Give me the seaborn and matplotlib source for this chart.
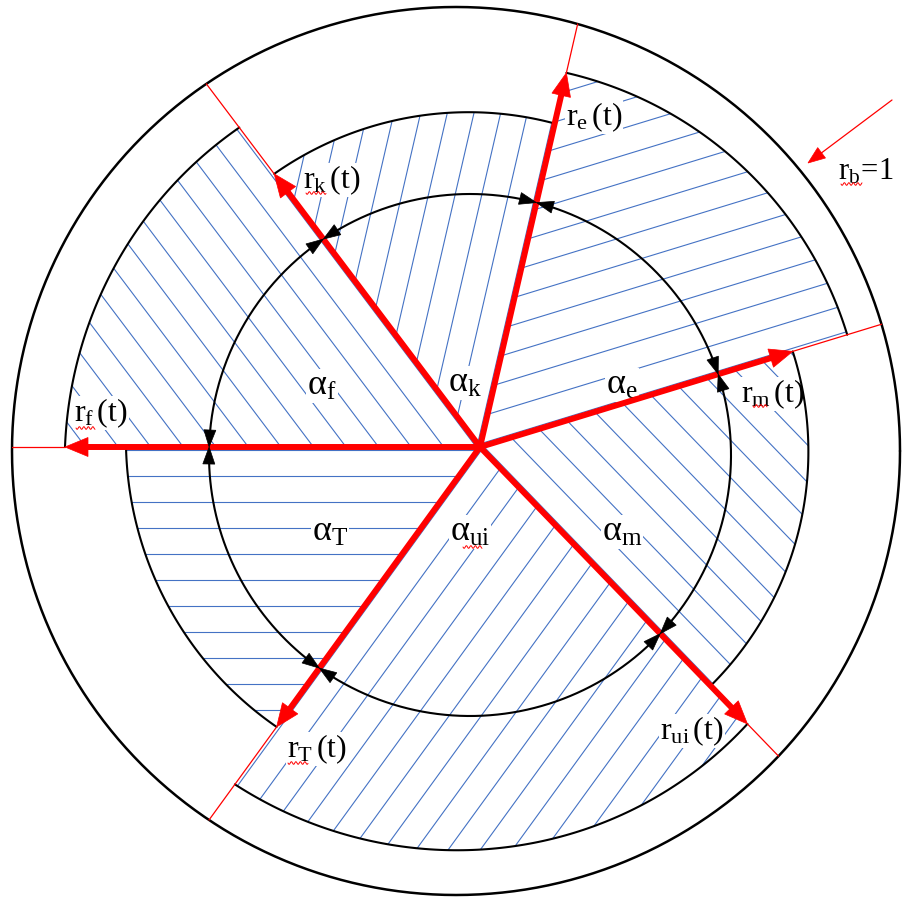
import numpy as np
import matplotlib
matplotlib.use('Agg')
import matplotlib.pyplot as plt
from matplotlib.patches import Polygon
from matplotlib.collections import LineCollection
import seaborn as sns

sns.set_theme(style='white')
plt.rcParams['font.family'] = ['Liberation Serif', 'DejaVu Serif']
plt.rcParams['mathtext.fontset'] = 'custom'
plt.rcParams['mathtext.rm'] = 'Liberation Serif'
plt.rcParams['mathtext.it'] = 'Liberation Serif:italic'

# ─────────────────────────────────────────
# Diagram data (pixel units, angles ccw from +x)
# ─────────────────────────────────────────
ray_names   = ['m', 'e', 'k', 'f', 'T', 'ui']
ray_angles  = [17, 77, 127, 180, 234, 314]
ray_lengths = [327, 384, 342, 415, 346, 385]       # = sector radius at its closing ray
sector_start_r = [332, 384, 332, 400, 354, 417]    # sector radius at its opening ray

ray_center   = (480, 447)
outer_center = (456, 451)
outer_radius = 444
inner_center = (470, 455)
inner_radius = 261

alpha_pos = {'m': (622, 532), 'e': (622, 385), 'k': (465, 383),
             'f': (322, 386), 'T': (330, 532), 'ui': (470, 532)}
r_label_pos = {'m': (773, 394), 'e': (594, 117), 'k': (332, 180),
               'f': (101, 413), 'T': (317, 749), 'ui': (692, 731)}

# red "spell-check" squiggles seen under some labels: (x0, x1, y)
squiggles = [(76, 95, 428), (306, 326, 193), (841, 862, 184),
             (753, 767, 406), (288, 308, 763), (463, 482, 547)]

RED = '#ff0000'
BLUE = '#4472c4'
hatch_step = 26


def pt(c, ang, r):
    a = np.deg2rad(ang)
    return np.array([c[0] + r * np.cos(a), c[1] - r * np.sin(a)])


def unit(ang):
    a = np.deg2rad(ang)
    return np.array([np.cos(a), -np.sin(a)])


def triangle(ax, tip, d, length, width, color, z):
    d = d / np.linalg.norm(d)
    n = np.array([-d[1], d[0]])
    base = tip - length * d
    ax.add_patch(Polygon([tip, base + width / 2 * n, base - width / 2 * n],
                         closed=True, facecolor=color, edgecolor=color,
                         lw=0.5, zorder=z))


fig = plt.figure(figsize=(9.03, 8.97), dpi=100)
ax = fig.add_axes([0, 0, 1, 1])
ax.set_xlim(0, 903)
ax.set_ylim(897, 0)
ax.axis('off')

# ── outer circle ──
th = np.linspace(0, 2 * np.pi, 721)
sns.lineplot(x=outer_center[0] + outer_radius * np.cos(th),
             y=outer_center[1] + outer_radius * np.sin(th),
             sort=False, estimator=None, color='black', lw=1.8, ax=ax,
             zorder=3)

# ── hatched sectors and their outer arcs ──
n = len(ray_names)
for i in range(n):
    a0 = ray_angles[i - 1]
    a1 = ray_angles[i]
    if a1 < a0:
        a0 -= 360
    angs = np.linspace(a0, a1, 120)
    rads = np.linspace(sector_start_r[i], ray_lengths[i], 120)
    arc = np.array([pt(ray_center, a, r) for a, r in zip(angs, rads)])
    poly = Polygon(np.vstack([ray_center, arc]), closed=True,
                   facecolor='none', edgecolor='none')
    ax.add_patch(poly)
    u = unit(ray_angles[i - 1])
    nrm = np.array([-u[1], u[0]])
    segs = []
    for s in np.arange(-480, 480, hatch_step) + 9:
        c = np.array(ray_center) + s * nrm
        segs.append([c - 600 * u, c + 600 * u])
    lc = LineCollection(segs, colors=BLUE, linewidths=0.8, zorder=1)
    ax.add_collection(lc)
    lc.set_clip_path(poly)
    sns.lineplot(x=arc[:, 0], y=arc[:, 1], sort=False, estimator=None,
                 color='black', lw=1.5, ax=ax, zorder=3)


# ── inner dimension arcs with arrowheads ──
def ray_circle_hit(ang):
    u = unit(ang)
    p = np.array(ray_center) - np.array(inner_center)
    b = np.dot(p, u)
    c = np.dot(p, p) - inner_radius ** 2
    t = -b + np.sqrt(b * b - c)
    return np.array(ray_center) + t * u


for i in range(n):
    p0 = ray_circle_hit(ray_angles[i - 1])
    p1 = ray_circle_hit(ray_angles[i])
    b0 = np.degrees(np.arctan2(-(p0[1] - inner_center[1]), p0[0] - inner_center[0]))
    b1 = np.degrees(np.arctan2(-(p1[1] - inner_center[1]), p1[0] - inner_center[0]))
    if b1 < b0:
        b0 -= 360
    angs = np.linspace(b0, b1, 150)
    arc = np.array([pt(inner_center, a, inner_radius) for a in angs])
    ax.plot(arc[:, 0], arc[:, 1], color='black', lw=1.5, zorder=3)
    triangle(ax, arc[0], arc[0] - arc[4], 17, 12, 'black', 5)
    triangle(ax, arc[-1], arc[-1] - arc[-5], 17, 12, 'black', 5)

# ── red rays ──
for name, ang, length in zip(ray_names, ray_angles, ray_lengths):
    u = unit(ang)
    tip = pt(ray_center, ang, length)
    neck = tip - 18 * u
    ax.plot([ray_center[0], neck[0]], [ray_center[1], neck[1]],
            color=RED, lw=4.3, solid_capstyle='butt', zorder=4)
    triangle(ax, tip, u, 23, 19, RED, 4)
    # thin extension to the outer circle
    p = np.array(ray_center) - np.array(outer_center)
    b = np.dot(p, u)
    c = np.dot(p, p) - outer_radius ** 2
    t = -b + np.sqrt(b * b - c)
    end = np.array(ray_center) + t * u
    ax.plot([tip[0], end[0]], [tip[1], end[1]], color=RED, lw=0.9, zorder=4)

# ── labels ──
box = dict(facecolor='white', edgecolor='none', pad=0.5)
for name in ray_names:
    x, y = alpha_pos[name]
    ax.text(x, y, r'$\mathrm{α_{%s}}$' % name, fontsize=26,
            ha='center', va='center', color='black', bbox=box, zorder=2)
    x, y = r_label_pos[name]
    ax.text(x, y, r'$\mathrm{r_{%s}\,(t)}$' % name, fontsize=23,
            ha='center', va='center', color='black', bbox=box, zorder=2)

# r_b = 1 pointer
rb_start = np.array([892, 100])
rb_tip = np.array([808, 163])
d = rb_tip - rb_start
d = d / np.linalg.norm(d)
ax.plot([rb_start[0], rb_tip[0] - 15 * d[0]], [rb_start[1], rb_tip[1] - 15 * d[1]],
        color=RED, lw=0.9, zorder=4)
triangle(ax, rb_tip, d, 17, 13, RED, 4)
ax.text(838, 172, r'$\mathrm{r_{b}\!=\!1}$', fontsize=22, ha='left',
        va='center', color='black', zorder=2)

# wavy underlines
for x0, x1, y in squiggles:
    xs = np.linspace(x0, x1, 60)
    ax.plot(xs, y + 1.3 * np.sin((xs - x0) * 2 * np.pi / 4.5),
            color=RED, lw=0.7, zorder=6)

plt.savefig('out.png', dpi=100)
plt.close()
